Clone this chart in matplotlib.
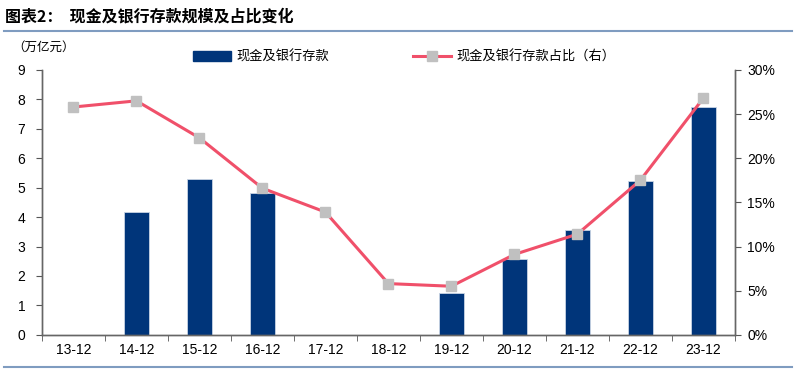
import numpy as np
import matplotlib.pyplot as plt
from matplotlib.lines import Line2D
from matplotlib.patches import Patch

plt.rcParams['font.family'] = ['Liberation Sans', 'Noto Sans CJK SC', 'DejaVu Sans']

years = ['13-12', '14-12', '15-12', '16-12', '17-12', '18-12',
         '19-12', '20-12', '21-12', '22-12', '23-12']
cash = [np.nan, 4.17, 5.29, 4.83, np.nan, np.nan, 1.42, 2.58, 3.55, 5.22, 7.74]
share = [25.8, 26.5, 22.3, 16.6, 13.9, 5.8, 5.5, 9.1, 11.4, 17.5, 26.8]

bar_color = '#00357a'
line_color = '#f0506a'
cjk = ['Noto Sans CJK SC', 'DejaVu Sans']

fig = plt.figure(figsize=(8, 3.72), dpi=100)
ax = fig.add_axes([0.0525, 0.1, 0.866, 0.712])
x = np.arange(len(years))
ax.bar(x, cash, width=0.4, color=bar_color, edgecolor='#c8d4e4', linewidth=0.6, zorder=2)
ax.set_xlim(-0.5, len(years) - 0.5)
ax.set_ylim(0, 9)
ax.set_yticks(range(0, 10))
ax.set_xticks(x)
ax.set_xticklabels(years)
ax.set_xticks(np.arange(-0.5, len(years), 1), minor=True)
ax.tick_params(axis='x', which='major', length=0, pad=6, labelsize=10)
ax.tick_params(axis='x', which='minor', length=4, color='#555555')
ax.tick_params(axis='y', length=4, color='#555555', labelsize=10, pad=8)

ax2 = ax.twinx()
ax2.plot(x, share, color=line_color, lw=2.2, marker='s', markersize=7,
         markerfacecolor='#c0c0c0', markeredgecolor='#c0c0c0', zorder=3)
ax2.set_ylim(0, 30)
ax2.set_yticks(range(0, 31, 5))
ax2.set_yticklabels([f'{v}%' for v in range(0, 31, 5)])
ax2.tick_params(axis='y', length=4, color='#555555', labelsize=10, pad=5)

for a in (ax, ax2):
    a.spines['top'].set_visible(False)
    for s in ('left', 'right', 'bottom'):
        a.spines[s].set_color('#666666')
        a.spines[s].set_linewidth(1.0)

# title and header
fig.text(0.006, 0.955, '图表2：  现金及银行存款规模及占比变化', family=cjk,
         fontsize=11.5, fontweight='bold', va='center', ha='left')
fig.add_artist(Line2D([0.005, 0.99], [0.918, 0.918], color='#7f9cc0', lw=1.5))
fig.add_artist(Line2D([0.005, 0.99], [0.014, 0.014], color='#7f9cc0', lw=1.5))
fig.text(0.015, 0.872, '（万亿元）', family=cjk, fontsize=9, va='center', ha='left')

leg_kw = dict(loc='center left', frameon=False, prop={'family': cjk, 'size': 9.5},
              handlelength=2.9, handleheight=0.8, handletextpad=0.4, borderpad=0,
              borderaxespad=0)
leg1 = fig.legend([Patch(facecolor=bar_color, edgecolor=bar_color)], ['现金及银行存款'],
                  bbox_to_anchor=(0.241, 0.847), **leg_kw)
fig.legend([Line2D([], [], color=line_color, lw=2.2, marker='s', markersize=7,
                   markerfacecolor='#c0c0c0', markeredgecolor='#c0c0c0')],
           ['现金及银行存款占比（右）'], bbox_to_anchor=(0.516, 0.847), **leg_kw)

fig.savefig('out.png', dpi=100)
